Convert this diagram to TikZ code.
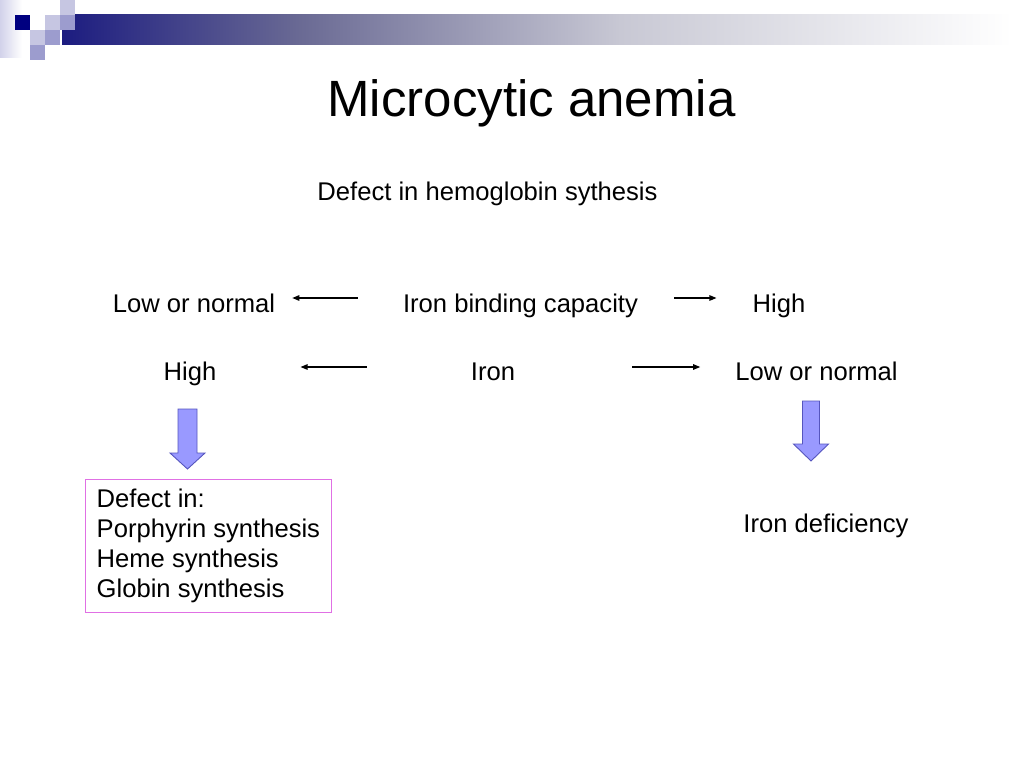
\documentclass[tikz,border=0pt]{standalone}
\usepackage{fontspec}
\setmainfont{Liberation Sans}
\usetikzlibrary{arrows.meta}
\definecolor{barnavy}{RGB}{28,28,128}
\definecolor{barmid}{RGB}{106,106,148}
\definecolor{barlight}{RGB}{200,200,212}
\definecolor{sqnavy}{RGB}{0,0,128}
\definecolor{sqlight}{RGB}{198,198,226}
\definecolor{sqmed}{RGB}{156,156,206}
\definecolor{stripcol}{RGB}{210,210,234}
\definecolor{boxpink}{RGB}{224,112,228}
\definecolor{fatfill}{RGB}{153,153,255}
\definecolor{fatdraw}{RGB}{85,85,190}
\begin{document}
\begin{tikzpicture}[x=1pt,y=-1pt]
\tikzset{
  txt/.style={inner sep=0pt, anchor=base, font=\fontsize{25.6}{30}\selectfont},
  titletxt/.style={inner sep=0pt, anchor=base, font=\fontsize{51}{60}\selectfont},
  boxed/.style={draw=boxpink, line width=1pt, anchor=north west, align=left,
    inner xsep=11.2pt, inner ysep=9.5pt, font=\fontsize{25.6}{30}\selectfont},
  harr/.style={-{Triangle[length=7pt,width=5.5pt]}, line width=1.1pt},
  fat/.style={fill=fatfill, draw=fatdraw, line width=0.9pt, line join=miter}
}
\useasboundingbox (0,0) rectangle (1024,768);
\fill[white] (0,0) rectangle (1024,768);
% header decoration
\fill[left color=stripcol, right color=white] (0,0) rectangle (22,58);
\fill[left color=barnavy, right color=barmid] (62,15) rectangle (300.5,45);
\fill[left color=barmid, right color=barlight] (300,15) rectangle (620.5,45);
\fill[left color=barlight, right color=white] (620,15) rectangle (1012,45);
\fill[sqnavy] (15,15) rectangle (30,30);
\fill[sqlight] (45,15) rectangle (60,30);
\fill[sqlight] (60,0) rectangle (75,15);
\fill[sqmed] (60,15) rectangle (75,30);
\fill[sqlight] (30,30) rectangle (45,45);
\fill[sqmed] (45,30) rectangle (60,45);
\fill[sqmed] (30,45) rectangle (45,60);
% title
\node[titletxt] (title) at (531.5,116) {Microcytic anemia};
\node[txt] (defect) at (487.5,200) {Defect in hemoglobin sythesis};
% row 1
\node[txt] (low1) at (194,312) {Low or normal};
\node[txt] (ibc) at (520.5,312) {Iron binding capacity};
\node[txt] (high1) at (779,312) {High};
% row 2
\node[txt] (high2) at (190,380) {High};
\node[txt] (iron) at (493,380) {Iron};
\node[txt] (low2) at (816.5,380) {Low or normal};
% results
\node[boxed] (defbox) at (85,479) {Defect in:\\Porphyrin synthesis\\Heme synthesis\\Globin synthesis};
\node[txt] (irondef) at (826,532) {Iron deficiency};
% horizontal arrows
\draw[harr, shorten <=45pt, shorten >=17pt] ([yshift=14pt]ibc.base west) -- ([yshift=14pt]low1.base east);
\draw[harr, shorten <=36pt, shorten >=36pt] ([yshift=14pt]ibc.base east) -- ([yshift=14pt]high1.base west);
\draw[harr, shorten <=104pt, shorten >=84pt] ([yshift=13pt]iron.base west) -- ([yshift=13pt]high2.base east);
\draw[harr, shorten <=117pt, shorten >=35pt] ([yshift=13pt]iron.base east) -- ([yshift=13pt]low2.base west);
% block arrows
\draw[fat, shift={(187.5,409)}] (-9.5,0) -- (9.5,0) -- (9.5,44) -- (17.5,44) -- (0,60) -- (-17.5,44) -- (-9.5,44) -- cycle;
\draw[fat, shift={(811,401)}] (-8.5,0) -- (8.5,0) -- (8.5,43) -- (17.5,43) -- (0,60) -- (-17.5,43) -- (-8.5,43) -- cycle;
\end{tikzpicture}
\end{document}
